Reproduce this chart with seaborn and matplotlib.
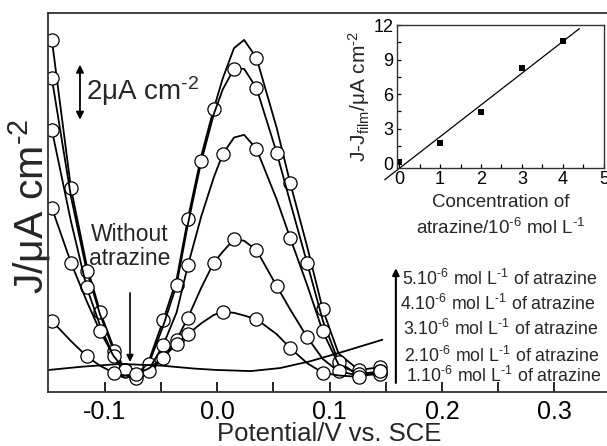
import numpy as np
import pandas as pd
import seaborn as sns
import matplotlib.pyplot as plt

# potential grid (V vs SCE) shared by the atrazine voltammograms
potential = [-0.147, -0.130, -0.116, -0.104, -0.092, -0.082, -0.072, -0.061,
             -0.048, -0.036, -0.026, -0.014, -0.003, 0.005, 0.015, 0.024,
             0.035, 0.053, 0.065, 0.080, 0.094, 0.108, 0.126, 0.145]

# current density (uA cm-2, arbitrary offset)
j_5uM = [12.8, 7.4, 4.6, 2.9, 1.6, 0.8, 0.6, 1.1, 2.6, 4.1, 6.3, 8.6, 10.3, 11.4,
         12.5, 12.8, 12.15, 9.6, 7.6, 5.3, 3.0, 1.4, 0.8, 0.9]
j_4uM = [11.4, 7.1, 4.4, 2.8, 1.5, 0.75, 0.6, 1.0, 2.4, 3.9, 6.1, 8.4, 10.1, 11.0,
         11.75, 11.75, 11.05, 8.7, 6.9, 4.7, 2.6, 1.1, 0.6, 0.7]
j_3uM = [9.53, 6.2, 3.8, 2.4, 1.3, 0.65, 0.5, 0.8, 1.7, 2.9, 4.6, 6.4, 7.8, 8.65,
         9.25, 9.35, 8.84, 7.0, 5.6, 3.9, 2.2, 1.0, 0.65, 0.75]
j_2uM = [6.69, 4.7, 3.3, 2.2, 1.3, 0.8, 0.6, 0.75, 1.2, 1.9, 2.7, 3.8, 4.7, 5.1,
         5.55, 5.5, 5.16, 3.85, 3.0, 2.0, 1.2, 0.75, 0.6, 0.65]
j_1uM = [2.58, 1.85, 1.3, 0.95, 0.7, 0.6, 0.65, 0.85, 1.25, 1.75, 2.1, 2.5, 2.8,
         2.91, 2.88, 2.78, 2.65, 2.1, 1.6, 1.05, 0.7, 0.6, 0.55, 0.75]

# which points of each curve carry a circle
marks_5uM = [0, 1, 3, 5, 6, 8, 10, 12, 16, 18, 20, 22, 23]
marks_4uM = [0, 2, 4, 5, 7, 9, 11, 14, 16, 17, 19, 21, 23]
marks_3uM = [0, 2, 4, 6, 8, 10, 13, 16, 18, 20, 22, 23]
marks_2uM = [0, 1, 3, 5, 7, 9, 10, 12, 14, 16, 17, 19, 21, 23]
marks_1uM = [0, 2, 4, 6, 8, 9, 10, 13, 16, 18, 20, 22, 23]

# film without atrazine
blank_potential = [-0.15, -0.12, -0.086, -0.05, -0.02, 0.0, 0.03, 0.056, 0.083, 0.115, 0.147]
blank_j = [0.8, 0.92, 1.02, 0.96, 0.85, 0.8, 0.76, 0.87, 1.12, 1.5, 1.9]

# inset calibration
conc = [0, 1, 2, 3, 4]
delta_j = [0.1, 1.75, 4.45, 8.3, 10.65]

HY = '\u2010'  # short hyphen for the exponents, as in the original
legend_lines = [f"5.10$^{{{HY}6}}$ mol L$^{{{HY}1}}$ of atrazine",
                f"4.10$^{{{HY}6}}$ mol L$^{{{HY}1}}$ of atrazine",
                f"3.10$^{{{HY}6}}$ mol L$^{{{HY}1}}$ of atrazine",
                f"2.10$^{{{HY}6}}$ mol L$^{{{HY}1}}$ of atrazine",
                f"1.10$^{{{HY}6}}$ mol L$^{{{HY}1}}$ of atrazine"]

sns.set_theme(style='ticks')
plt.rcParams['font.family'] = ['Liberation Sans', 'DejaVu Sans']
plt.rcParams['mathtext.default'] = 'regular'
plt.rcParams['axes.linewidth'] = 1.3

fig = plt.figure(figsize=(6.07, 4.46), dpi=100)
ax = fig.add_axes([0.0799, 0.1211, 0.926, 0.8498])

curves = [(j_5uM, marks_5uM), (j_4uM, marks_4uM), (j_3uM, marks_3uM),
          (j_2uM, marks_2uM), (j_1uM, marks_1uM)]
for j, marks in curves:
    df = pd.DataFrame({'E': potential, 'J': j})
    sns.lineplot(data=df, x='E', y='J', ax=ax, color='black', linewidth=1.3,
                 sort=False, estimator=None, marker='o', markevery=marks,
                 markersize=9.5, markerfacecolor='white', markeredgecolor='black',
                 markeredgewidth=0.9)

sns.lineplot(x=blank_potential, y=blank_j, ax=ax, color='black', linewidth=1.3,
             sort=False, estimator=None)

ax.set_xlim(-0.15, 0.35)
ax.set_ylim(0, 13.78)
ax.set_xticks([-0.1, 0.0, 0.1, 0.2, 0.3])
ax.set_xticklabels(['-0.1', '0.0', '0.1', '0.2', '0.3'])
ax.set_xticks([-0.05, 0.05, 0.15, 0.25], minor=True)
ax.set_yticks([])
ax.tick_params(axis='x', which='both', direction='in', length=7, width=1.2,
               labelsize=18, pad=5.5, colors='black')
ax.spines['right'].set_visible(False)
for s in ['top', 'left', 'bottom']:
    ax.spines[s].set_color('#333333')
ax.set_xlabel('Potential/V vs. SCE', fontsize=18.5, labelpad=-1)
ax.set_ylabel(f'J/\u03bcA cm$^{{{HY}2}}$', fontsize=29.5)
ax.yaxis.set_label_coords(0.008, 0.49)

# scale bar
ax.annotate('', xy=(-0.122, 11.9), xytext=(-0.122, 9.9),
            arrowprops=dict(arrowstyle='<|-|>', color='black', lw=1.3,
                            mutation_scale=11, shrinkA=0, shrinkB=0))
ax.text(-0.1167, 10.62, f'2\u03bcA cm$^{{{HY}2}}$', fontsize=20, va='baseline', ha='left')

# without atrazine
ax.text(-0.0775, 4.45, 'Without\natrazine', fontsize=16.5, ha='center', va='bottom',
        linespacing=1.05)
ax.annotate('', xy=(-0.0775, 1.09), xytext=(-0.0775, 3.6),
            arrowprops=dict(arrowstyle='-|>', color='black', lw=1.2,
                            mutation_scale=10, shrinkA=0, shrinkB=0))

# concentration arrow and labels
ax.annotate('', xy=(0.159, 4.5), xytext=(0.159, 0.33),
            arrowprops=dict(arrowstyle='-|>', color='black', lw=1.5,
                            mutation_scale=10, shrinkA=0, shrinkB=0))
label_x = [0.1647, 0.163, 0.1656, 0.1665, 0.1683]
label_y = [3.89, 2.98, 2.07, 1.09, 0.36]
for tx, ty, s in zip(label_x, label_y, legend_lines):
    ax.text(tx, ty, s, fontsize=12.8, ha='left', va='baseline')

# inset
ins = fig.add_axes([0.654, 0.6233, 0.341, 0.3206])
sns.scatterplot(x=conc, y=delta_j, ax=ins, marker='s', color='black', s=14,
                edgecolor='black', linewidth=0)
slope, icpt = np.polyfit(conc, delta_j, 1)
fit_x = np.array([-0.35, 4.4])
sns.lineplot(x=fit_x, y=slope * fit_x + icpt, ax=ins, color='black', linewidth=0.9)
ins.set_xlim(-0.05, 5.0)
ins.set_ylim(-0.43, 12)
ins.set_xticks([0, 1, 2, 3, 4, 5])
ins.set_xticks([0.5, 1.5, 2.5, 3.5, 4.5], minor=True)
ins.set_yticks([0, 3, 6, 9, 12])
ins.set_yticks([1.5, 4.5, 7.5, 10.5], minor=True)
ins.tick_params(which='both', direction='in', length=3, width=0.9, labelsize=13,
                pad=2.5, colors='black')
for s in ins.spines.values():
    s.set_linewidth(1.0)
    s.set_color('#333333')
ins.set_xlabel(f'Concentration of\natrazine/10$^{{{HY}6}}$ mol L$^{{{HY}1}}$', fontsize=13.5,
               labelpad=4, linespacing=1.4)
ins.set_ylabel(f'J-J$_{{film}}$/\u03bcA cm$^{{{HY}2}}$', fontsize=15, labelpad=1)
for line in ins.lines:
    line.set_clip_on(False)

fig.savefig('out.png', dpi=100)
